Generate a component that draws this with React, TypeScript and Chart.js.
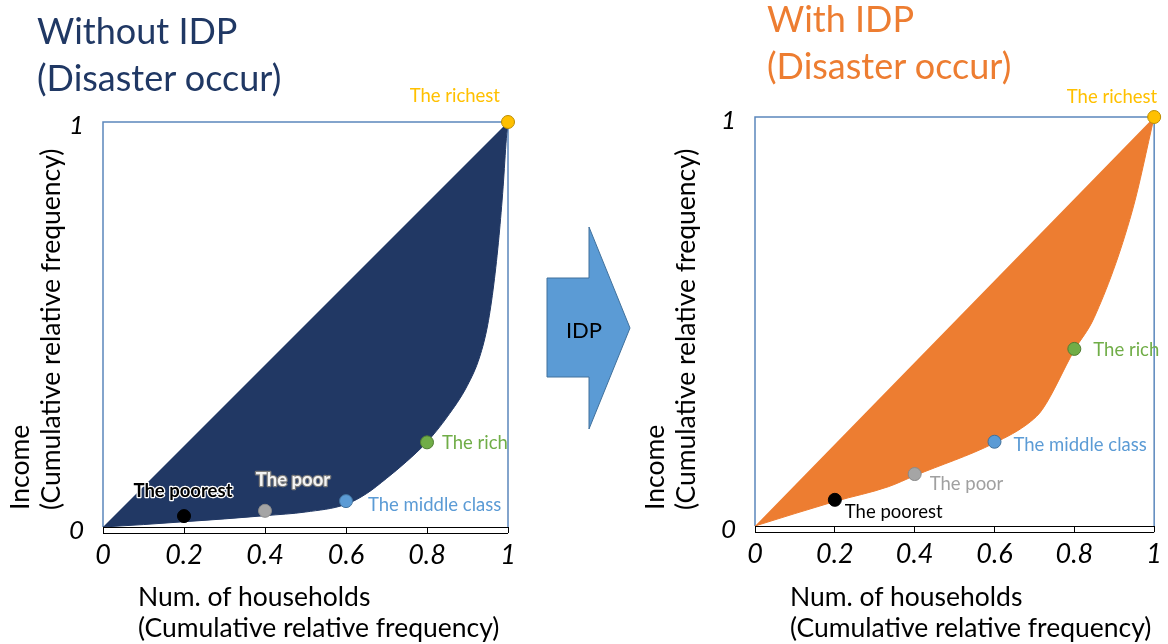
import React, { useEffect, useRef } from "react";
import { Chart, registerables } from "chart.js";

Chart.register(...registerables);

const FONT = 'Lato, "Open Sans", sans-serif';

// Household groups and their cumulative share of households
const groups = ["The poorest", "The poor", "The middle class", "The rich", "The richest"];
const groupShare = [0.2, 0.4, 0.6, 0.8, 1];

// Cumulative income share of each group
const incomeWithoutIdp = [0.027, 0.04, 0.064, 0.209, 1];
const incomeWithIdp = [0.064, 0.127, 0.206, 0.433, 1];

// Lorenz curves (cumulative households -> cumulative income)
const curveWithoutX = [0, 0.1, 0.2, 0.3, 0.4, 0.5, 0.6, 0.65, 0.7, 0.75, 0.8, 0.85, 0.9, 0.93, 0.95, 0.965, 0.978, 0.988, 0.996, 1];
const curveWithoutY = [0, 0.006, 0.013, 0.02, 0.028, 0.037, 0.056, 0.082, 0.12, 0.162, 0.21, 0.272, 0.35, 0.42, 0.5, 0.6, 0.72, 0.84, 0.96, 1];
const curveWithX = [0, 0.2, 0.334, 0.4, 0.6, 0.69, 0.72, 0.8, 0.85, 0.945, 1];
const curveWithY = [0, 0.06, 0.096, 0.123, 0.203, 0.255, 0.285, 0.43, 0.51, 0.77, 1];

// Line of perfect equality
const equalityX = [0, 1];
const equalityY = [0, 1];

const xTicks = [0, 0.2, 0.4, 0.6, 0.8, 1];
const xTickLabels = ["0", "0.2", "0.4", "0.6", "0.8", "1"];
const yTicks = [0, 1];
const yTickLabels = ["0", "1"];

const groupFill = ["#000000", "#A5A5A5", "#5B9BD5", "#70AD47", "#FFC000"];
const groupEdge = ["#000000", "#8A8A8A", "#41719C", "#507E32", "#BC8C00"];

type LabelStyle = {
  dx: number;
  dy: number;
  align: CanvasTextAlign;
  color: string;
  stroke?: string;
  strokeWidth?: number;
  weight?: string;
};

const labelsWithout: LabelStyle[] = [
  { dx: -1, dy: -25, align: "center", color: "#000000", stroke: "#ffffff", strokeWidth: 2.5, weight: "bold" },
  { dx: 28, dy: -31, align: "center", color: "#f4f4f4", stroke: "#7a7a7a", strokeWidth: 2.5, weight: "bold" },
  { dx: 22, dy: 4, align: "left", color: "#5B9BD5" },
  { dx: 15, dy: 1, align: "left", color: "#70AD47" },
  { dx: -8, dy: -26, align: "right", color: "#FFC000" },
];

const labelsWith: LabelStyle[] = [
  { dx: 10, dy: 12, align: "left", color: "#000000" },
  { dx: 15, dy: 10, align: "left", color: "#A0A0A0" },
  { dx: 19, dy: 3, align: "left", color: "#5B9BD5" },
  { dx: 19, dy: 1, align: "left", color: "#70AD47" },
  { dx: 3, dy: -20, align: "right", color: "#FFC000" },
];

const toXY = (xs: number[], ys: number[]) => xs.map((x, i) => ({ x, y: ys[i] }));

const frameColor = "#5B87BC";

const framePlugin = {
  id: "frameStrip",
  beforeDatasetsDraw(chart: any) {
    const { ctx, chartArea: a } = chart;
    ctx.save();
    ctx.strokeStyle = frameColor;
    ctx.lineWidth = 1.5;
    ctx.beginPath();
    ctx.moveTo(a.left, a.bottom);
    ctx.lineTo(a.left, a.top);
    ctx.lineTo(a.right, a.top);
    ctx.lineTo(a.right, a.bottom);
    ctx.stroke();
    ctx.strokeStyle = "#000000";
    ctx.lineWidth = 1;
    ctx.beginPath();
    ctx.moveTo(a.left, a.bottom + 6.5);
    ctx.lineTo(a.right, a.bottom + 6.5);
    ctx.stroke();
    ctx.restore();
  },
};

const groupLabelPlugin = {
  id: "groupLabels",
  afterDatasetsDraw(chart: any, _args: any, opts: any) {
    const { ctx } = chart;
    const xs = chart.scales.x;
    const ys = chart.scales.y;
    const income: number[] = opts.income;
    const styles: LabelStyle[] = opts.styles;
    ctx.save();
    ctx.textBaseline = "middle";
    groups.forEach((g, i) => {
      const s = styles[i];
      const px = xs.getPixelForValue(groupShare[i]) + s.dx;
      const py = ys.getPixelForValue(income[i]) + s.dy;
      ctx.font = `${s.weight || "normal"} 18.5px ${FONT}`;
      ctx.textAlign = s.align;
      if (s.stroke) {
        ctx.lineJoin = "round";
        ctx.strokeStyle = s.stroke;
        ctx.lineWidth = s.strokeWidth || 2;
        ctx.strokeText(g, px, py);
      }
      ctx.fillStyle = s.color;
      ctx.fillText(g, px, py);
    });
    ctx.restore();
  },
};

type PanelProps = {
  curveX: number[];
  curveY: number[];
  income: number[];
  fillColor: string;
  styles: LabelStyle[];
  padding: { left: number; right: number; top: number; bottom: number };
  width: number;
  height: number;
  left: number;
};

function LorenzPanel(p: PanelProps) {
  const ref = useRef<HTMLCanvasElement | null>(null);

  useEffect(() => {
    if (!ref.current) return;
    const chart = new Chart(ref.current, {
      type: "line",
      data: {
        datasets: [
          {
            label: "Equality",
            data: toXY(equalityX, equalityY),
            borderWidth: 0,
            borderColor: "rgba(0,0,0,0)",
            pointRadius: 0,
            fill: false,
            order: 3,
          },
          {
            label: "Lorenz curve",
            data: toXY(p.curveX, p.curveY),
            borderColor: p.fillColor,
            backgroundColor: p.fillColor,
            borderWidth: 1,
            pointRadius: 0,
            cubicInterpolationMode: "monotone",
            fill: 0,
            order: 2,
          },
          {
            label: "Groups",
            data: toXY(groupShare, p.income),
            showLine: false,
            pointRadius: 6.5,
            pointBorderWidth: 1,
            pointBackgroundColor: groupFill,
            pointBorderColor: groupEdge,
            clip: false,
            order: 1,
          } as any,
        ],
      },
      options: {
        responsive: false,
        animation: false,
        layout: { padding: p.padding },
        plugins: {
          legend: { display: false },
          tooltip: { enabled: false },
          groupLabels: { income: p.income, styles: p.styles },
        } as any,
        scales: {
          x: {
            type: "linear",
            min: 0,
            max: 1,
            afterFit: (s: any) => {
              s.height = 40;
            },
            afterBuildTicks: (s: any) => {
              s.ticks = xTicks.map((v) => ({ value: v }));
            },
            ticks: {
              callback: (_v: any, i: number) => xTickLabels[i],
              color: "#000000",
              font: { family: FONT, size: 27, style: "italic" },
              padding: 6,
              maxRotation: 0,
            },
            grid: {
              display: true,
              drawOnChartArea: false,
              drawTicks: true,
              tickLength: 6,
              color: "#000000",
              lineWidth: 1,
            },
            border: { display: true, color: "#000000", width: 1 },
          },
          y: {
            type: "linear",
            min: 0,
            max: 1,
            afterFit: (s: any) => {
              s.width = 40;
            },
            afterBuildTicks: (s: any) => {
              s.ticks = yTicks.map((v) => ({ value: v }));
            },
            ticks: {
              callback: (_v: any, i: number) => yTickLabels[i],
              color: "#000000",
              font: { family: FONT, size: 26, style: "italic" },
              padding: 19,
              labelOffset: 4,
            },
            grid: { display: false, drawTicks: false },
            border: { display: false },
          },
        },
      },
      plugins: [framePlugin, groupLabelPlugin],
    } as any);
    return () => chart.destroy();
  }, []);

  return (
    <canvas
      ref={ref}
      width={p.width}
      height={p.height}
      style={{ position: "absolute", left: p.left, top: 0, width: p.width, height: p.height }}
    />
  );
}

const titleStyle = (left: number, top: number, color: string): React.CSSProperties => ({
  position: "absolute",
  left,
  top,
  color,
  fontFamily: FONT,
  fontSize: 36,
  lineHeight: "47px",
  whiteSpace: "nowrap",
});

const axisTitle: React.CSSProperties = {
  position: "absolute",
  fontFamily: FONT,
  fontSize: 26.5,
  lineHeight: "31px",
  color: "#000000",
  whiteSpace: "nowrap",
};

function YTitle({ left }: { left: number }) {
  return (
    <div
      style={{
        ...axisTitle,
        left,
        top: 510,
        width: 410,
        height: 62,
        transform: "rotate(-90deg)",
        transformOrigin: "0 0",
        textAlign: "left",
      }}
    >
      Income
      <br />
      (Cumulative relative frequency)
    </div>
  );
}

function XTitle({ left }: { left: number }) {
  return (
    <div style={{ ...axisTitle, left, top: 581 }}>
      Num. of households
      <br />
      (Cumulative relative frequency)
    </div>
  );
}

export default function App() {
  return (
    <div
      style={{
        position: "fixed",
        left: 0,
        top: 0,
        width: 1168,
        height: 644,
        background: "#ffffff",
        overflow: "hidden",
      }}
    >
      <LorenzPanel
        curveX={curveWithoutX}
        curveY={curveWithoutY}
        income={incomeWithoutIdp}
        fillColor="#213864"
        styles={labelsWithout}
        padding={{ left: 63, right: 76, top: 122, bottom: 77 }}
        width={584}
        height={644}
        left={0}
      />
      <LorenzPanel
        curveX={curveWithX}
        curveY={curveWithY}
        income={incomeWithIdp}
        fillColor="#ED7D31"
        styles={labelsWith}
        padding={{ left: 131, right: 9, top: 117, bottom: 78 }}
        width={584}
        height={644}
        left={584}
      />

      <div style={titleStyle(37, 7, "#203864")}>
        Without IDP
        <br />
        (Disaster occur)
      </div>
      <div style={titleStyle(767, -5, "#ED7D31")}>
        With IDP
        <br />
        (Disaster occur)
      </div>

      <YTitle left={4} />
      <YTitle left={639} />
      <XTitle left={138} />
      <XTitle left={790} />

      <svg
        width={1168}
        height={644}
        style={{ position: "absolute", left: 0, top: 0, pointerEvents: "none" }}
      >
        <polygon
          points="547,278 589,278 589,227 630,328 589,429 589,377 547,377"
          fill="#5B9BD5"
          stroke="#41719C"
          strokeWidth={1}
        />
        <text
          x={584}
          y={329}
          textAnchor="middle"
          dominantBaseline="central"
          fontFamily={FONT}
          fontSize={22}
          fill="#000000"
        >
          IDP
        </text>
      </svg>
    </div>
  );
}
